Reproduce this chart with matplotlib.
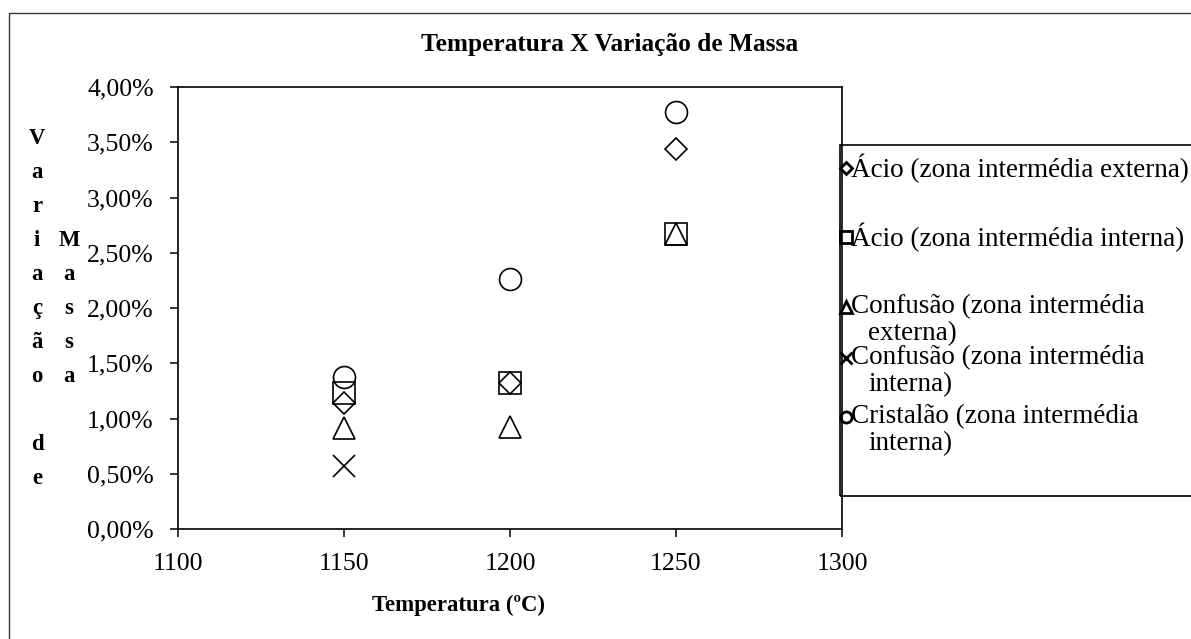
import matplotlib
matplotlib.use("Agg")
import matplotlib.pyplot as plt
import numpy as np
from matplotlib.lines import Line2D
from matplotlib.patches import Rectangle
from matplotlib.ticker import FuncFormatter, MultipleLocator

plt.rcParams['font.family'] = ['Liberation Serif', 'DejaVu Serif']

# Data (mass variation in %)
temperatures = [1150, 1200, 1250]
acio_externa = [1.14, 1.32, 3.44]
acio_interna = [1.23, 1.32, 2.67]
confusao_externa = [0.91, 0.92, 2.67]
confusao_interna = [0.57, np.nan, np.nan]
cristalao_interna = [1.38, 2.26, 3.77]

series_labels = [
    "Ácio (zona intermédia externa)",
    "Ácio (zona intermédia interna)",
    "Confusão (zona intermédia\nexterna)",
    "Confusão (zona intermédia\ninterna)",
    "Cristalão (zona intermédia\ninterna)",
]
series_values = [acio_externa, acio_interna, confusao_externa,
                 confusao_interna, cristalao_interna]
series_markers = ['D', 's', '^', 'x', 'o']
marker_sizes = [11.2, 15.8, 15.8, 16, 15.8]
legend_sizes = [6, 8, 8, 8, 8]

W, H = 1191, 639
fig = plt.figure(figsize=(W / 100, H / 100), dpi=100)

# outer chart frame (left and top edges visible)
fig.patches.append(Rectangle((9 / W, -0.1), 1.2, (H - 13) / H + 0.1,
                             transform=fig.transFigure, fill=False,
                             edgecolor='#333333', linewidth=1.0))

ax = fig.add_axes([178 / W, (H - 529) / H, 664 / W, 442 / H])

for vals, mk, ms in zip(series_values, series_markers, marker_sizes):
    ax.plot(temperatures, vals, linestyle='none', marker=mk, markersize=ms,
            markerfacecolor='none', markeredgecolor='black',
            markeredgewidth=1.2)

ax.set_xlim(1100, 1300)
ax.set_ylim(0, 4)
ax.xaxis.set_major_locator(MultipleLocator(50))
ax.yaxis.set_major_locator(MultipleLocator(0.5))
ax.yaxis.set_major_formatter(FuncFormatter(lambda v, p: f"{v:.2f}%".replace('.', ',')))
ax.tick_params(direction='out', length=5.5, width=1.1, labelsize=18.6, color='black')
ax.tick_params(axis='y', pad=12)
ax.tick_params(axis='x', pad=12)
for sp in ax.spines.values():
    sp.set_linewidth(1.2)

fig.text(610 / W, 1 - 45 / H, "Temperatura X Variação de Massa", ha='center',
         va='center', fontsize=18.3, fontweight='bold')
fig.text(458 / W, 1 - 605 / H, "Temperatura (ºC)", ha='center', va='center',
         fontsize=16.4, fontweight='bold')

# stacked y label, Excel style
col1 = "Variação de"
col2 = "Massa"
step = 34.1
for i, ch in enumerate(col1):
    fig.text(37 / W, 1 - (138 + i * step) / H, ch, ha='center', va='center',
             fontsize=16.4, fontweight='bold')
for i, ch in enumerate(col2):
    fig.text(69 / W, 1 - (138 + (i + 3) * step) / H, ch, ha='center', va='center',
             fontsize=16.4, fontweight='bold')

# legend box
fig.patches.append(Rectangle((840 / W, 1 - 496 / H), 0.5, (496 - 145) / H,
                             transform=fig.transFigure, fill=False,
                             edgecolor='black', linewidth=1.2))
entry_y = [168, 237, 307, 358, 417]
for lab, mk, ls, yy in zip(series_labels, series_markers, legend_sizes, entry_y):
    fig.lines.append(Line2D([846 / W], [1 - yy / H], transform=fig.transFigure,
                            marker=mk, markersize=ls, markerfacecolor='none',
                            markeredgecolor='black', markeredgewidth=2,
                            linestyle='none'))
    lines = lab.split('\n')
    fig.text(851 / W, 1 - yy / H, lines[0], ha='left', va='center', fontsize=19.5)
    if len(lines) > 1:
        fig.text(868 / W, 1 - (yy + 26.5) / H, lines[1], ha='left', va='center',
                 fontsize=19.5)

fig.savefig("out.png", dpi=100)
